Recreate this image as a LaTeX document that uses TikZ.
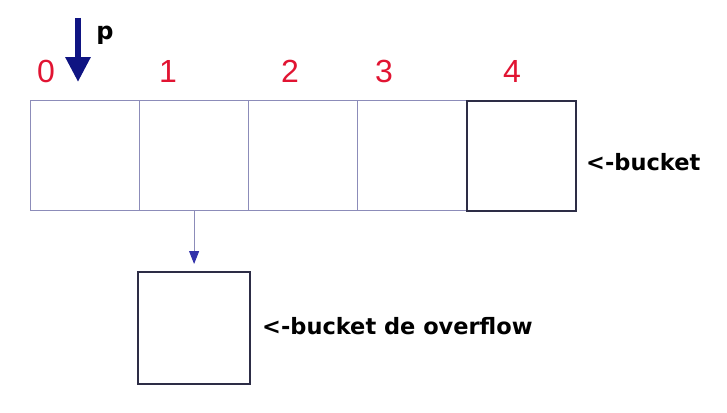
\documentclass[tikz,border=0pt]{standalone}
\usepackage{fontspec}
\setmainfont{Liberation Sans}
\newfontfamily\notefont{DejaVu Sans}
\usetikzlibrary{arrows.meta}
\definecolor{cellline}{RGB}{140,140,185}
\definecolor{darkline}{RGB}{45,45,70}
\definecolor{pblue}{RGB}{15,20,130}
\definecolor{tipblue}{RGB}{50,50,170}
\definecolor{idxred}{RGB}{225,20,50}

\begin{document}
\begin{tikzpicture}[x=1pt,y=-1pt,
    cell/.style={draw=cellline,line width=1.2pt,minimum width=109pt,minimum height=110pt,
        inner sep=0pt,anchor=north west},
    index/.style={text=idxred,font=\fontsize{32}{32}\selectfont},
    note/.style={font=\notefont\bfseries\fontsize{22.5}{22.5}\selectfont,anchor=west,inner sep=0pt}]
    \useasboundingbox (0,0) rectangle (727,412);
    % Row of buckets
    \foreach \i in {0,...,3}
        \node[cell] (c\i) at ({30+109*\i},100) {};
    \node[cell,draw=darkline,line width=2pt] (c4) at (466,100) {};
    % Indices
    \node[index] (i0) at (46,71) {0};
    \node[index] (i1) at (168,71) {1};
    \node[index] (i2) at (290,71) {2};
    \node[index] (i3) at (384,71) {3};
    \node[index] (i4) at (512,71) {4};
    % Pointer p
    \coordinate (ptop) at (78,18);
    \coordinate (ptip) at (78,82);
    \draw[pblue,line width=6pt,-{Triangle[width=24pt,length=25pt]}] (ptop) -- (ptip);
    \node[font=\notefont\bfseries\fontsize{24}{24}\selectfont] (p) at (105,35) {p};
    % Overflow bucket
    \node[cell,draw=darkline,line width=2.2pt,minimum width=112pt,minimum height=112pt] (ovf) at (137,271) {};
    \draw[cellline,line width=1pt,-{Triangle[width=10pt,length=13pt,color=tipblue]},
        shorten >=7pt] (c1.south) -- (c1.south |- ovf.north);
    % Labels
    \node[note] (nb) at (586,162) {<-bucket};
    \node[note] (no) at (262,326) {<-bucket de overflow};
\end{tikzpicture}
\end{document}
